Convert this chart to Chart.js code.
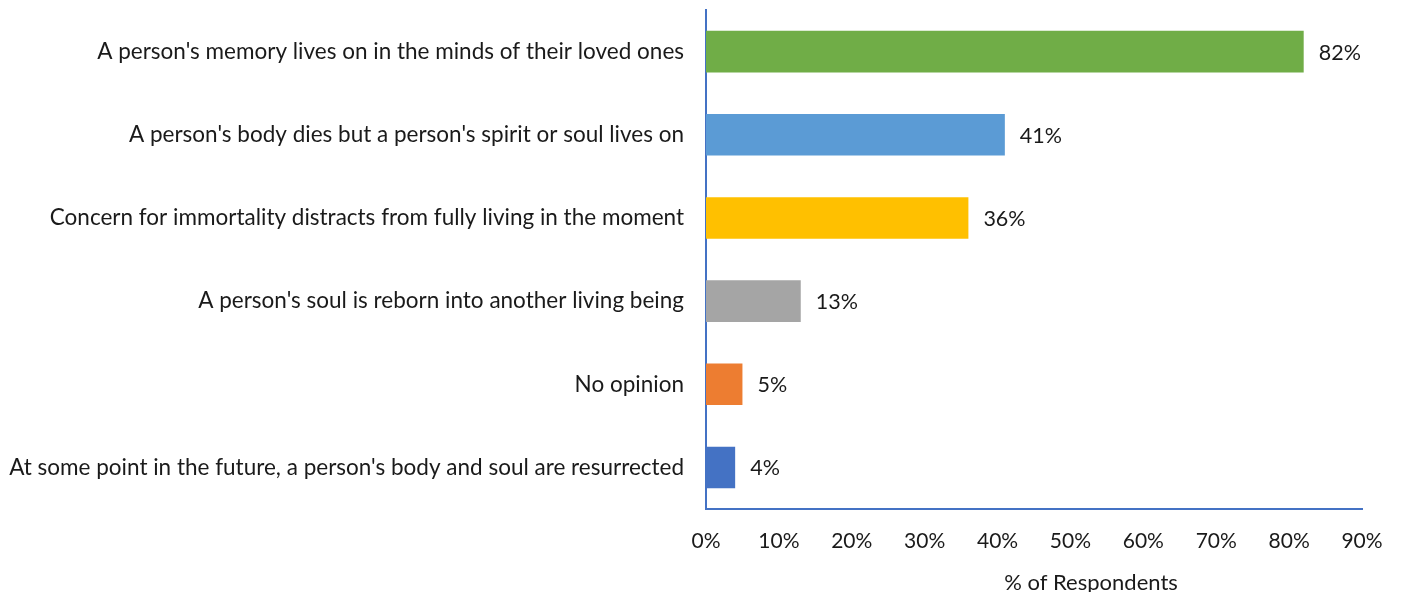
<!DOCTYPE html>
<html>
<head>
<meta charset="utf-8">
<script src="https://cdn.jsdelivr.net/npm/chart.js@4"></script>
<style>
    html, body { margin: 0; padding: 0; background: #fff; }
    #wrap { width: 1401px; height: 592px; }
</style>
</head>
<body>
<div id="wrap"><canvas id="chart" width="1401" height="592"></canvas></div>
<script>
const categories = [
    "A person's memory lives on in the minds of their loved ones",
    "A person's body dies but a person's spirit or soul lives on",
    "Concern for immortality distracts from fully living in the moment",
    "A person's soul is reborn into another living being",
    "No opinion",
    "At some point in the future, a person's body and soul are resurrected"
];
const values = [82, 41, 36, 13, 5, 4];
const barColors = ['#70AD47', '#5B9BD5', '#FFC000', '#A5A5A5', '#ED7D31', '#4472C4'];
const xTicks = [0, 10, 20, 30, 40, 50, 60, 70, 80, 90];
const xTitle = '% of Respondents';

const fontFamily = "Lato, 'Open Sans', sans-serif";
const textColor = '#1a1a1a';
const axisColor = '#4472C4';

// value labels past the end of each bar, plus the x axis title
// (the title sits right of centre in the original, so it is drawn by hand)
const valueLabels = {
    id: 'valueLabels',
    afterDatasetsDraw(chart) {
        const ctx = chart.ctx;
        const meta = chart.getDatasetMeta(0);
        ctx.save();
        ctx.font = `21.5px ${fontFamily}`;
        ctx.fillStyle = textColor;
        ctx.textAlign = 'left';
        ctx.textBaseline = 'middle';
        meta.data.forEach((bar, i) => {
            ctx.fillText(`${values[i]}%`, bar.x + 15, bar.y + 1);
        });

        const area = chart.chartArea;
        ctx.font = `22px ${fontFamily}`;
        ctx.textAlign = 'center';
        ctx.fillText(xTitle, (area.left + area.right) / 2 + 57, chart.height - 9);
        ctx.restore();
    }
};

new Chart(document.getElementById('chart'), {
    type: 'bar',
    data: {
        labels: categories,
        datasets: [{
            data: values,
            backgroundColor: barColors,
            barPercentage: 0.5,
            categoryPercentage: 1
        }]
    },
    options: {
        indexAxis: 'y',
        responsive: false,
        animation: false,
        layout: { padding: { top: 10, right: 39, left: 0, bottom: 0 } },
        plugins: {
            legend: { display: false },
            tooltip: { enabled: false }
        },
        scales: {
            x: {
                min: 0,
                max: 90,
                afterBuildTicks: (axis) => { axis.ticks = xTicks.map(v => ({ value: v })); },
                afterFit: (axis) => {
                    axis.height = 83;
                    axis.paddingLeft = 0;
                    axis.paddingRight = 0;
                },
                grid: { display: false, drawTicks: false },
                border: { display: true, color: axisColor, width: 2 },
                ticks: {
                    color: textColor,
                    font: { family: fontFamily, size: 21 },
                    padding: 20,
                    maxRotation: 0,
                    callback: (v) => `${v}%`
                }
            },
            y: {
                afterFit: (axis) => {
                    axis.width = 706;
                    axis.paddingTop = 0;
                    axis.paddingBottom = 0;
                },
                grid: { display: false, drawTicks: false },
                border: { display: true, color: axisColor, width: 2 },
                ticks: {
                    color: textColor,
                    font: { family: fontFamily, size: 22.5 },
                    padding: 22,
                    autoSkip: false
                }
            }
        }
    },
    plugins: [valueLabels]
});
</script>
</body>
</html>
